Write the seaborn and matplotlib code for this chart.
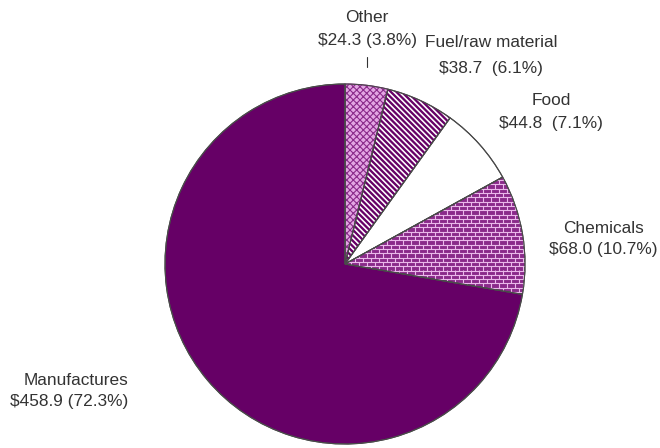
import numpy as np
import matplotlib
matplotlib.use("Agg")
import matplotlib.pyplot as plt
from matplotlib.patches import Wedge
from matplotlib.collections import LineCollection
import seaborn as sns

# Export value by product group (billions of dollars)
categories = ["Other", "Fuel/raw material", "Food", "Chemicals", "Manufactures"]
values = [24.3, 38.7, 44.8, 68.0, 458.9]
value_gaps = [" ", "  ", "  ", " ", " "]

sns.set_theme(style="white")
plt.rcParams["font.family"] = ["Liberation Sans", "DejaVu Sans"]
plt.rcParams["hatch.linewidth"] = 0.8

W, H = 660, 448
fig = plt.figure(figsize=(W / 100, H / 100), dpi=100)
ax = fig.add_axes([0, 0, 1, 1])

cx, cy, radius = 345, H - 264, 180
face_colors = ["#e3a6e3", "white", "white", "#8a2a8a", "#660066"]

wedges, _ = ax.pie(
    values,
    center=(cx, cy),
    radius=radius,
    startangle=90,
    counterclock=False,
    colors=face_colors,
    wedgeprops=dict(edgecolor="#4a4a4a", linewidth=0.8),
)
ax.set_xlim(0, W)
ax.set_ylim(0, H)
ax.set_aspect("equal")
ax.axis("off")

# Fine crosshatch for "Other"
wedges[0].set_hatch("xxxxx")
wedges[0].set_edgecolor("#8a2a8a")

# Diagonal stripes for "Fuel/raw material"
period = 5.5
offsets = np.arange(cx - 450, cx + 450, period)
stripes = [[(o, cy + 250), (o + 500, cy - 250)] for o in offsets]
lc = LineCollection(stripes, colors="#660066", linewidths=1.65, zorder=3)
lc.set_clip_path(wedges[1])
ax.add_collection(lc)

# Brick texture for "Chemicals"
row_h, brick_w = 4.3, 8.0
segs = []
ys = np.arange(cy - 200, cy + 200, row_h)
for i, y0 in enumerate(ys):
    segs.append([(cx - 10, y0), (cx + 200, y0)])
    shift = 0 if i % 2 == 0 else brick_w / 2
    for x0 in np.arange(cx - 10 + shift, cx + 200, brick_w):
        segs.append([(x0, y0), (x0, y0 + row_h)])
bricks = LineCollection(segs, colors="#eab8ea", linewidths=0.8, zorder=3)
bricks.set_clip_path(wedges[3])
ax.add_collection(bricks)

# Slice outlines on top of the textures
for w in wedges:
    ax.add_patch(Wedge(w.center, w.r, w.theta1, w.theta2, fill=False,
                       edgecolor="#4a4a4a", linewidth=0.8, zorder=4))

total = sum(values)
label_layout = {
    "Other": dict(x=367, ys=(17, 40), ha="center"),
    "Fuel/raw material": dict(x=491, ys=(42, 68), ha="center"),
    "Food": dict(x=551, ys=(100, 123), ha="center"),
    "Chemicals": dict(x=603, ys=(228, 249), ha="center"),
    "Manufactures": dict(x=128, ys=(380, 401), ha="right"),
}
for cat, val, gap in zip(categories, values, value_gaps):
    lay = label_layout[cat]
    lines = [cat, f"${val:.1f}{gap}({val / total * 100:.1f}%)"]
    for line, y in zip(lines, lay["ys"]):
        ax.text(lay["x"], H - y, line, ha=lay["ha"], va="center",
                fontsize=12.4, color="#333333", zorder=5)

# Leader tick for "Other"
ax.plot([367, 367], [H - 57, H - 67], color="#333333", linewidth=0.8, zorder=5)

fig.savefig("out.png", dpi=100, facecolor="white")
